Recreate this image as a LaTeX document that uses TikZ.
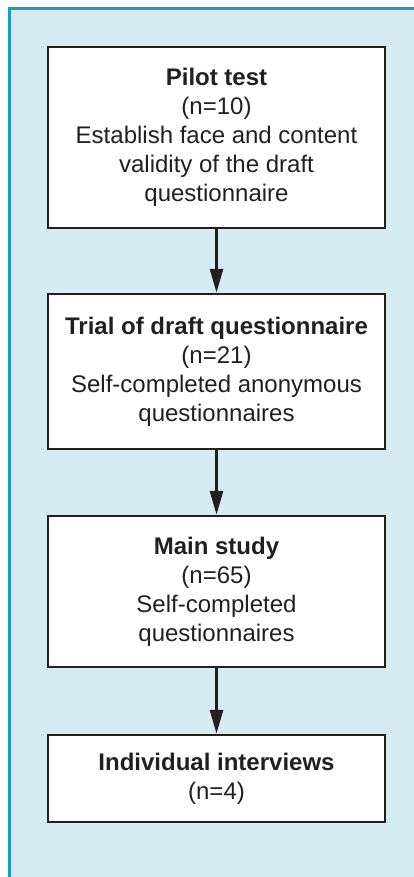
\documentclass[tikz,border=0pt]{standalone}
\usepackage{fontspec}
\setmainfont{Liberation Sans}
\usetikzlibrary{arrows.meta}
\definecolor{panelbg}{HTML}{D7ECF2}
\definecolor{panelline}{HTML}{1A9CC4}
\definecolor{ink}{HTML}{231F20}
\tikzset{
  stepbox/.style={draw=ink, line width=2.5pt, fill=white, minimum width=337pt,
    align=center, inner sep=0pt, text=ink,
    font=\fontsize{24}{29}\selectfont},
  flow/.style={draw=ink, line width=3pt, -{Triangle[length=24pt,width=13pt]}}
}
\begin{document}
\begin{tikzpicture}[x=1pt,y=-1pt]
\useasboundingbox (0,0) rectangle (414,877);
\fill[white] (0,0) rectangle (414,877);
\fill[panelbg] (9.5,8.5) rectangle (414,877);
\draw[panelline, line width=3pt] (9.5,877) -- (9.5,8.5) -- (414,8.5);
\node[stepbox, minimum height=181pt] (b1) at (216.5,137.5)
  {\textbf{Pilot test}\\(n=10)\\Establish face and content\\validity of the draft\\questionnaire};
\node[stepbox, minimum height=155pt] (b2) at (216.5,371.5)
  {\textbf{Trial of draft questionnaire}\\(n=21)\\Self-completed anonymous\\questionnaires};
\node[stepbox, minimum height=151pt] (b3) at (216.5,591.5)
  {\textbf{Main study}\\(n=65)\\Self-completed\\questionnaires};
\node[stepbox, minimum height=87pt] (b4) at (216.5,778.5)
  {\textbf{Individual interviews}\\(n=4)};
\draw[flow] (b1.south) -- (b2.north);
\draw[flow] (b2.south) -- (b3.north);
\draw[flow] (b3.south) -- (b4.north);
\end{tikzpicture}
\end{document}
